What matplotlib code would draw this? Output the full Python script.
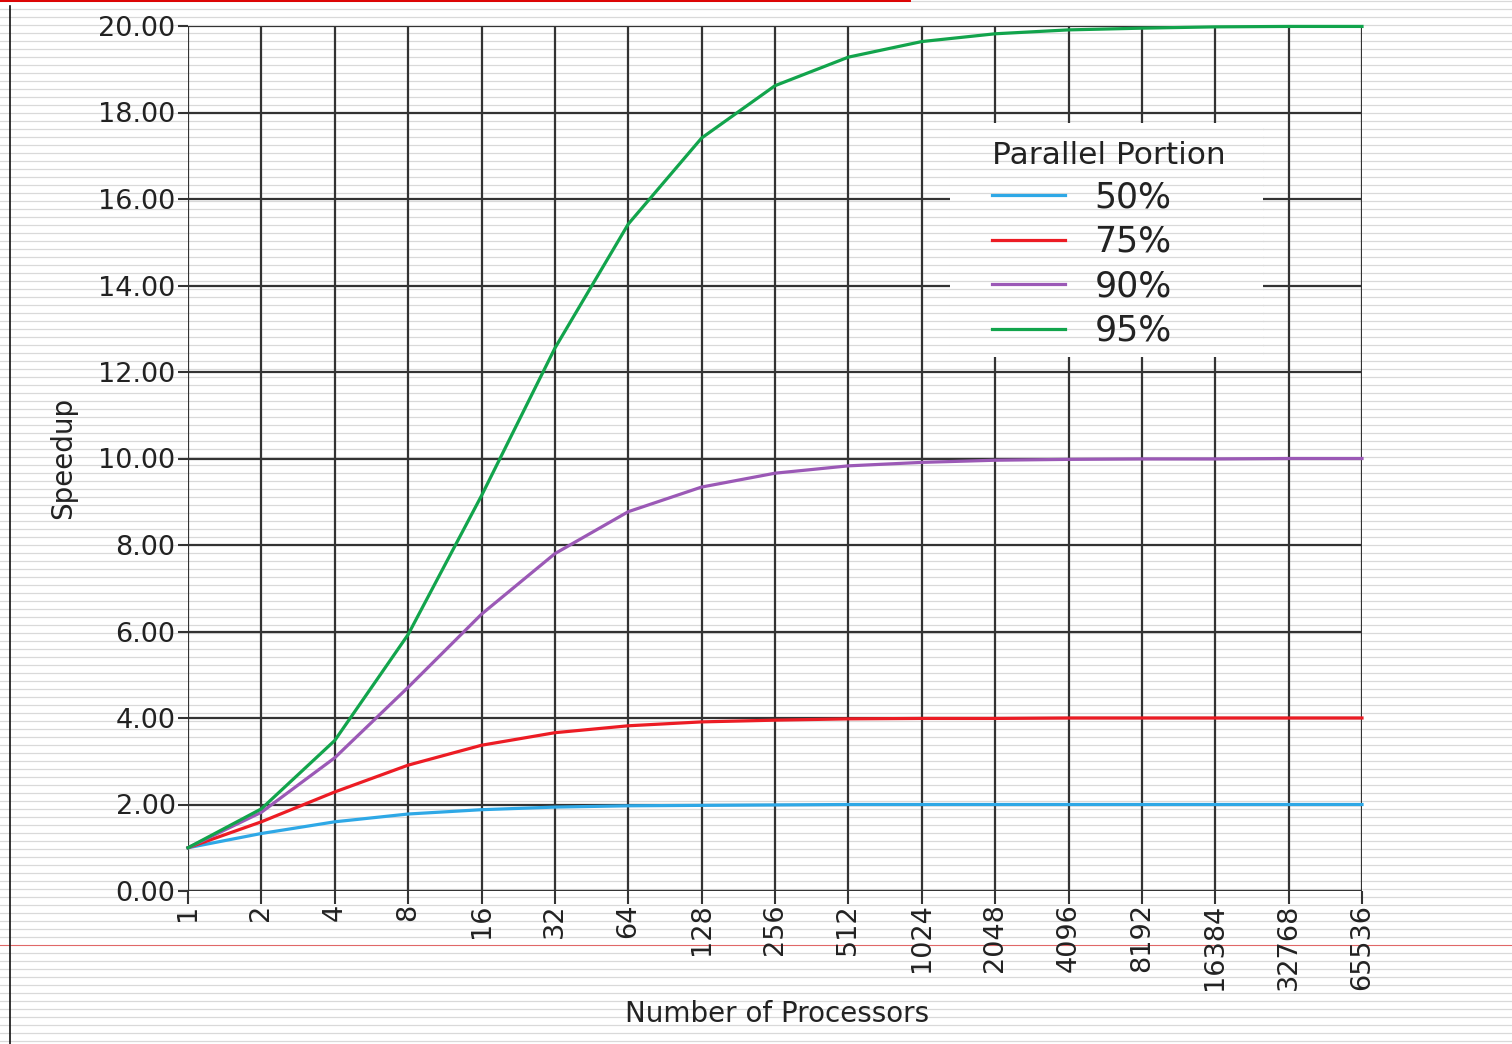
#!/usr/bin/env python3
"""Amdahl speedup chart on ruled paper"""
import matplotlib
matplotlib.use('Agg')
import matplotlib.pyplot as plt
from matplotlib.lines import Line2D
from matplotlib.patches import Rectangle

W, H = 1512, 1044

processors = [1, 2, 4, 8, 16, 32, 64, 128, 256, 512, 1024, 2048, 4096,
              8192, 16384, 32768, 65536]
proc_labels = [str(p) for p in processors]

speedup_50 = [1.00, 1.33, 1.60, 1.78, 1.88, 1.94, 1.97, 1.98, 1.99, 2.00,
              2.00, 2.00, 2.00, 2.00, 2.00, 2.00, 2.00]
speedup_75 = [1.00, 1.60, 2.29, 2.91, 3.37, 3.66, 3.82, 3.91, 3.95, 3.98,
              3.99, 3.99, 4.00, 4.00, 4.00, 4.00, 4.00]
speedup_90 = [1.00, 1.82, 3.08, 4.71, 6.40, 7.80, 8.77, 9.34, 9.66, 9.83,
              9.91, 9.96, 9.98, 9.99, 9.99, 10.00, 10.00]
speedup_95 = [1.00, 1.90, 3.48, 5.93, 9.14, 12.55, 15.42, 17.41, 18.62, 19.28,
              19.64, 19.82, 19.91, 19.95, 19.98, 19.99, 19.99]

series_labels = ["50%", "75%", "90%", "95%"]
series_colors = ["#2ea8e6", "#ec1c24", "#9b59b6", "#12a44c"]
y_ticks = [0, 2, 4, 6, 8, 10, 12, 14, 16, 18, 20]

TXT = "#222222"
GRID = "#333333"
RULE = "#d9d9d9"


def fx(px):
    return px / W


def fy(py):
    return 1 - py / H


fig = plt.figure(figsize=(W / 100, H / 100), dpi=100)
fig.patch.set_facecolor("white")

# ruled paper in the background
for k in range(131):
    y = 1.3 + 8 * k
    if abs(y - 945) < 3:
        continue
    fig.lines.append(Line2D([0, 1], [fy(y), fy(y)], transform=fig.transFigure,
                            color=RULE, lw=0.9, zorder=-5))
fig.lines.append(Line2D([0, 1], [fy(945), fy(945)], transform=fig.transFigure,
                        color="#e06868", lw=0.8, zorder=-4))
fig.lines.append(Line2D([0, fx(910)], [fy(0.6), fy(0.6)], transform=fig.transFigure,
                        color="#dd0000", lw=1.4, zorder=-4))
fig.lines.append(Line2D([fx(10), fx(10)], [fy(6), 0], transform=fig.transFigure,
                        color="#111111", lw=1.2, zorder=-4))

ax = fig.add_axes([fx(188), fy(891), fx(1362 - 188), (891 - 26) / H])
ax.set_facecolor("none")
ax.set_xscale("log", base=2)
ax.set_xlim(processors[0], processors[-1])
ax.set_ylim(0, 20)
for s in ax.spines.values():
    s.set_visible(False)

ax.set_xticks(processors)
ax.set_xticklabels(proc_labels, rotation=90, fontsize=19.5, color=TXT)
ax.xaxis.set_minor_locator(matplotlib.ticker.NullLocator())
ax.set_yticks(y_ticks)
ax.set_yticklabels([f"{v:.2f}" for v in y_ticks], fontsize=19.5, color=TXT)
ax.tick_params(axis="x", length=9, width=1.5, color=GRID, pad=0)
ax.tick_params(axis="y", length=7.5, width=1.5, color=GRID, pad=1.5)
ax.grid(True, color=GRID, lw=1.6, zorder=1)

# blank box where the legend sits, ruled lines carried through it
ax.add_patch(Rectangle((fx(950), fy(357)), fx(1263 - 950), (357 - 123) / H,
                       transform=fig.transFigure, facecolor="white",
                       edgecolor="none", zorder=3, clip_on=False))
for k in range(131):
    y = 1.3 + 8 * k
    if 123 < y < 357:
        ax.add_line(Line2D([fx(950), fx(1263)], [fy(y), fy(y)],
                           transform=fig.transFigure, color=RULE, lw=0.9,
                           zorder=3.5, clip_on=False))

for vals, lab, col in zip([speedup_50, speedup_75, speedup_90, speedup_95],
                          series_labels, series_colors):
    ax.plot(processors, vals, color=col, lw=2.3, label=lab, zorder=5, clip_on=False)

leg = ax.legend(loc="upper left", bbox_to_anchor=(fx(992), fy(141)),
                bbox_transform=fig.transFigure, frameon=False,
                title="Parallel Portion", title_fontsize=22.5, fontsize=25,
                alignment="left", handlelength=2.1, handletextpad=0.85,
                labelspacing=0.3, borderpad=0, borderaxespad=0)
leg.get_title().set_color(TXT)
for t in leg.get_texts():
    t.set_color(TXT)
leg.set_zorder(6)

ax.set_xlabel("Number of Processors", fontsize=20, color=TXT, va="center")
ax.xaxis.set_label_coords((777 - 188) / (1362 - 188), -(1014 - 891) / (891 - 26))
ax.set_ylabel("Speedup", fontsize=20, color=TXT, va="center")
ax.yaxis.set_label_coords((63 - 188) / (1362 - 188), (891 - 458) / (891 - 26))

plt.savefig("out.png", dpi=100, facecolor=fig.get_facecolor())
plt.close()
